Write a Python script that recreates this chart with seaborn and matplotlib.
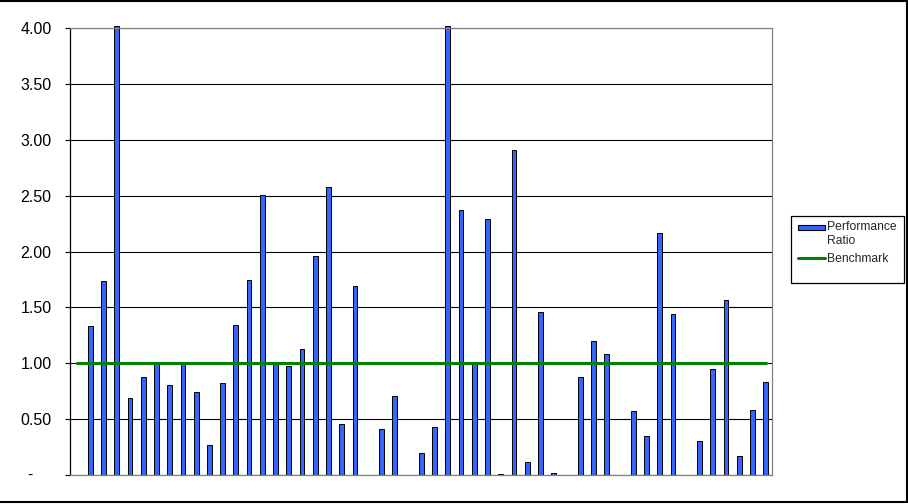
import numpy as np
import pandas as pd
import seaborn as sns
import matplotlib.pyplot as plt
from matplotlib.lines import Line2D
from matplotlib.patches import Rectangle
from matplotlib.legend_handler import HandlerPatch

# one slot per category; slot 0 and a few others have no ratio
categories = list(range(53))
ratio = [np.nan, 1.33, 1.74, 4.02, 0.69, 0.88, 1.00, 0.81, 1.00, 0.74,
         0.27, 0.82, 1.34, 1.75, 2.51, 0.99, 0.98, 1.13, 1.96, 2.58,
         0.46, 1.69, np.nan, 0.41, 0.71, np.nan, 0.20, 0.43, 4.02, 2.37,
         0.99, 2.29, 0.01, 2.91, 0.12, 1.46, 0.015, np.nan, 0.875, 1.20,
         1.08, np.nan, 0.57, 0.35, 2.17, 1.44, np.nan, 0.30, 0.95, 1.57,
         0.17, 0.58, 0.83]
benchmark = [1.00] * len(categories)
y_ticks = [0, 0.5, 1.0, 1.5, 2.0, 2.5, 3.0, 3.5, 4.0]
y_labels = ["", "0.50", "1.00", "1.50", "2.00", "2.50", "3.00", "3.50", "4.00"]

BAR_BLUE = "#3366FF"
LINE_GREEN = "#008000"

sns.set_theme(style="white")
plt.rcParams["font.family"] = ["Liberation Sans", "DejaVu Sans"]

df = pd.DataFrame({"category": categories, "ratio": ratio, "benchmark": benchmark})

fig = plt.figure(figsize=(9.08, 5.04), dpi=100)
W, H = 908, 504
ax = fig.add_axes([70.3 / W, 1 - 475 / H, (772.3 - 70.3) / W, (475 - 28.3) / H])

sns.barplot(data=df, x="category", y="ratio", native_scale=True, width=0.36,
            color=BAR_BLUE, saturation=1, edgecolor="black", linewidth=0.7,
            errorbar=None, ax=ax)
for p in ax.patches:
    p.set_clip_on(False)
sns.lineplot(data=df, x="category", y="benchmark", color=LINE_GREEN,
             linewidth=2.2, ax=ax, legend=False)

ax.set_xlim(-0.5, 52.5)
ax.set_ylim(0, 4)
ax.set_xticks([])
ax.set_xlabel("")
ax.set_ylabel("")
ax.set_yticks(y_ticks)
ax.set_yticklabels(y_labels, fontsize=11.5, color="black")
ax.tick_params(axis="y", length=3.5, width=0.8, color="black", pad=10,
               left=True, direction="out")
ax.set_axisbelow(True)
ax.grid(axis="y", color="black", linewidth=0.8)
for side in ["top", "right", "bottom"]:
    ax.spines[side].set_color("#808080")
    ax.spines[side].set_linewidth(0.9)
ax.spines["left"].set_color("black")
ax.spines["left"].set_linewidth(0.9)
# Excel accounting format shows zero as a dash
ax.text((30 - 70.3) / 702, 0, "-", transform=ax.get_yaxis_transform(),
        ha="center", va="center", fontsize=11.5, color="black")


def top_patch(legend, orig_handle, xdescent, ydescent, width, height, fontsize):
    yc = -ydescent + height / 2 + 0.55 * fontsize
    return Rectangle((-xdescent, yc - 0.17 * fontsize), width, 0.34 * fontsize)


handles = [Rectangle((0, 0), 1, 1, facecolor=BAR_BLUE, edgecolor="black", linewidth=0.8),
           Line2D([0], [0], color=LINE_GREEN, linewidth=2.2)]
leg = fig.legend(handles, ["Performance\nRatio", "Benchmark"], loc="upper left",
                 bbox_to_anchor=(798 / W, 1 - 221 / H), frameon=False,
                 borderpad=0, borderaxespad=0, handlelength=2.2,
                 handletextpad=0.2, labelspacing=0.55, fontsize=8.7,
                 handler_map={Rectangle: HandlerPatch(patch_func=top_patch)})

fig.patches.append(Rectangle((791 / W, 1 - 283 / H), (904 - 791) / W, (283 - 215.7) / H,
                             transform=fig.transFigure, fill=False,
                             edgecolor="black", linewidth=0.9))
# sheet borders around the chart
fig.add_artist(Line2D([0, 907 / W], [1 - 1 / H] * 2, color="black", linewidth=1.5))
fig.add_artist(Line2D([907 / W] * 2, [1 - 1 / H, 1 - 501.7 / H], color="black", linewidth=1.5))
fig.add_artist(Line2D([0, 907 / W], [1 - 501.7 / H] * 2, color="black", linewidth=1.5))

fig.savefig("out.png", dpi=100)
